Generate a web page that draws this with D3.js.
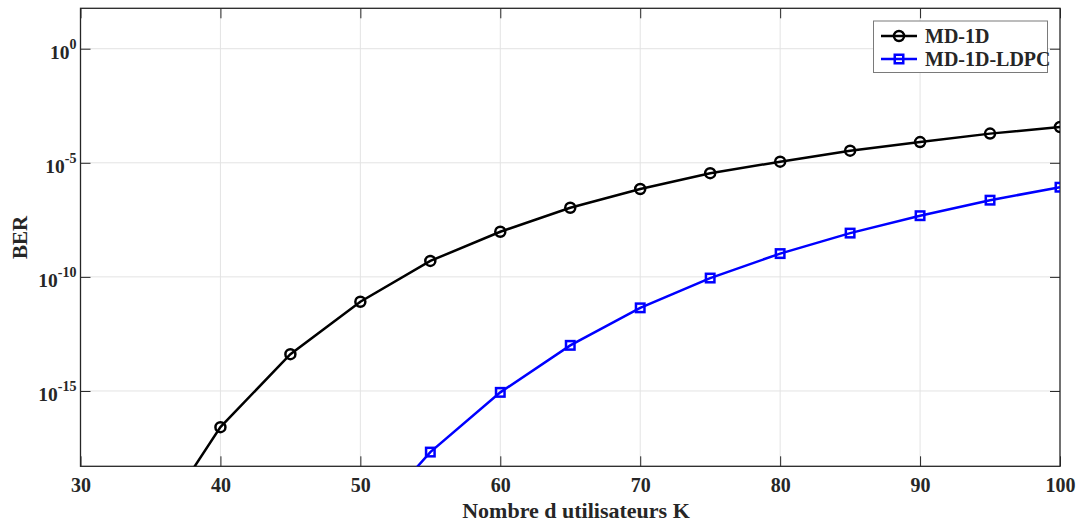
<!DOCTYPE html>
<html>
<head>
<meta charset="utf-8">
<script src="https://cdn.jsdelivr.net/npm/d3@7"></script>
<style>
  html, body { margin: 0; padding: 0; background: #fff; }
  svg { display: block; font-family: "Liberation Serif", "Times New Roman", serif; font-weight: bold; }
</style>
</head>
<body>
<svg id="chart" width="1081" height="522"></svg>
<script>
// Number of users K
const usersMD = [35, 40, 45, 50, 55, 60, 65, 70, 75, 80, 85, 90, 95, 100];
const berMD = [5.6e-22, 2.6e-17, 4.1e-14, 8.1e-12, 5.0e-10, 9.5e-9, 1.07e-7, 7.1e-7, 3.5e-6, 1.12e-5, 3.4e-5, 8.1e-5, 1.9e-4, 3.7e-4];

const usersLDPC = [50, 55, 60, 65, 70, 75, 80, 85, 90, 95, 100];
const berLDPC = [7.4e-22, 2.1e-18, 8.7e-16, 1.0e-13, 4.4e-12, 8.9e-11, 1.05e-9, 8.3e-9, 4.8e-8, 2.3e-7, 8.5e-7];

const xTicks = [30, 40, 50, 60, 70, 80, 90, 100];
const yTickExponents = [0, -5, -10, -15];
const seriesNames = ["MD-1D", "MD-1D-LDPC"];

const xDomain = [30, 100];
const yDomain = [5e-19, 59];

const svg = d3.select("#chart");
const margin = { left: 80.5, right: 1060, top: 8.3, bottom: 466.3 };

const x = d3.scaleLinear().domain(xDomain).range([margin.left, margin.right]);
const y = d3.scaleLog().domain(yDomain).range([margin.bottom, margin.top]);

const axisColor = "#262626";
const gridColor = "#e3e3e3";

svg.append("defs").append("clipPath").attr("id", "plot-clip")
  .append("rect")
  .attr("x", margin.left).attr("y", margin.top)
  .attr("width", margin.right - margin.left)
  .attr("height", margin.bottom - margin.top);

// Grid lines
const grid = svg.append("g");
grid.selectAll(".gx").data(xTicks.slice(1, -1)).join("line")
  .attr("x1", d => x(d)).attr("x2", d => x(d))
  .attr("y1", margin.top).attr("y2", margin.bottom)
  .attr("stroke", gridColor).attr("stroke-width", 1);
grid.selectAll(".gy").data(yTickExponents).join("line")
  .attr("x1", margin.left).attr("x2", margin.right)
  .attr("y1", d => y(Math.pow(10, d))).attr("y2", d => y(Math.pow(10, d)))
  .attr("stroke", gridColor).attr("stroke-width", 1);

// Axes with inward ticks on all four sides
const tickLen = 10;
const bottomAxis = d3.axisBottom(x).tickValues(xTicks).tickSize(-tickLen).tickFormat(d3.format("d")).tickPadding(12);
const topAxis = d3.axisTop(x).tickValues(xTicks).tickSize(-tickLen).tickFormat("");
const yTickVals = yTickExponents.map(e => Math.pow(10, e));
const leftAxis = d3.axisLeft(y).tickValues(yTickVals).tickSize(-tickLen).tickFormat("");
const rightAxis = d3.axisRight(y).tickValues(yTickVals).tickSize(-tickLen).tickFormat("");

function styleAxis(g) {
  g.select(".domain").remove();
  g.selectAll(".tick line").attr("stroke", axisColor).attr("stroke-width", 1);
}

const gb = svg.append("g").attr("transform", `translate(0,${margin.bottom})`).call(bottomAxis).call(styleAxis);
gb.selectAll(".tick text")
  .attr("fill", axisColor)
  .style("font-family", "'Liberation Serif', serif")
  .style("font-weight", "bold")
  .style("font-size", "20px");
svg.append("g").attr("transform", `translate(0,${margin.top})`).call(topAxis).call(styleAxis);
svg.append("g").attr("transform", `translate(${margin.left},0)`).call(leftAxis).call(styleAxis);
svg.append("g").attr("transform", `translate(${margin.right},0)`).call(rightAxis).call(styleAxis);

// Y tick labels as powers of ten
const yLabels = svg.append("g").attr("fill", axisColor);
yTickExponents.forEach(e => {
  const t = yLabels.append("text")
    .attr("x", margin.left - 4)
    .attr("y", y(Math.pow(10, e)) + 10)
    .attr("text-anchor", "end")
    .style("font-size", "19.5px");
  t.append("tspan").text("10");
  t.append("tspan").attr("dy", -10).style("font-size", "14px").text(String(e));
});

// Plot frame
svg.append("rect")
  .attr("x", margin.left).attr("y", margin.top)
  .attr("width", margin.right - margin.left)
  .attr("height", margin.bottom - margin.top)
  .attr("fill", "none").attr("stroke", axisColor).attr("stroke-width", 1.3);

// Data series
const plot = svg.append("g").attr("clip-path", "url(#plot-clip)");
const line = d3.line().x(d => x(d[0])).y(d => y(d[1]));

const mdData = usersMD.map((k, i) => [k, berMD[i]]);
const ldpcData = usersLDPC.map((k, i) => [k, berLDPC[i]]);

const lw = 2.5;
plot.append("path").datum(mdData).attr("d", line)
  .attr("fill", "none").attr("stroke", "#000").attr("stroke-width", lw);
plot.selectAll(".mk-md").data(mdData).join("circle")
  .attr("cx", d => x(d[0])).attr("cy", d => y(d[1])).attr("r", 5)
  .attr("fill", "none").attr("stroke", "#000").attr("stroke-width", lw);

plot.append("path").datum(ldpcData).attr("d", line)
  .attr("fill", "none").attr("stroke", "#0000ff").attr("stroke-width", lw);
const sq = 8.5;
plot.selectAll(".mk-ldpc").data(ldpcData).join("rect")
  .attr("x", d => x(d[0]) - sq / 2).attr("y", d => y(d[1]) - sq / 2)
  .attr("width", sq).attr("height", sq)
  .attr("fill", "none").attr("stroke", "#0000ff").attr("stroke-width", lw);

// Axis titles
svg.append("text")
  .attr("x", 576)
  .attr("y", 518)
  .attr("text-anchor", "middle")
  .attr("fill", axisColor)
  .style("font-size", "22px")
  .text("Nombre d utilisateurs K");

svg.append("text")
  .attr("transform", `translate(27,${(margin.top + margin.bottom) / 2}) rotate(-90)`)
  .attr("text-anchor", "middle")
  .attr("fill", axisColor)
  .style("font-size", "21px")
  .text("BER");

// Legend
const legend = svg.append("g");
legend.append("rect")
  .attr("x", 873.5).attr("y", 21)
  .attr("width", 174).attr("height", 51.5)
  .attr("fill", "#fff").attr("stroke", "#7a7a7a").attr("stroke-width", 1);

const legendItems = [
  { name: seriesNames[0], color: "#000", marker: "circle", cy: 36 },
  { name: seriesNames[1], color: "#0000ff", marker: "square", cy: 59 }
];
legendItems.forEach(it => {
  legend.append("line")
    .attr("x1", 881).attr("x2", 917).attr("y1", it.cy).attr("y2", it.cy)
    .attr("stroke", it.color).attr("stroke-width", lw);
  if (it.marker === "circle") {
    legend.append("circle").attr("cx", 899).attr("cy", it.cy).attr("r", 5)
      .attr("fill", "none").attr("stroke", it.color).attr("stroke-width", lw);
  } else {
    legend.append("rect").attr("x", 899 - sq / 2).attr("y", it.cy - sq / 2)
      .attr("width", sq).attr("height", sq)
      .attr("fill", "none").attr("stroke", it.color).attr("stroke-width", lw);
  }
  legend.append("text")
    .attr("x", 925).attr("y", it.cy + 6.5)
    .attr("fill", axisColor)
    .style("font-size", "20px")
    .text(it.name);
});
</script>
</body>
</html>
